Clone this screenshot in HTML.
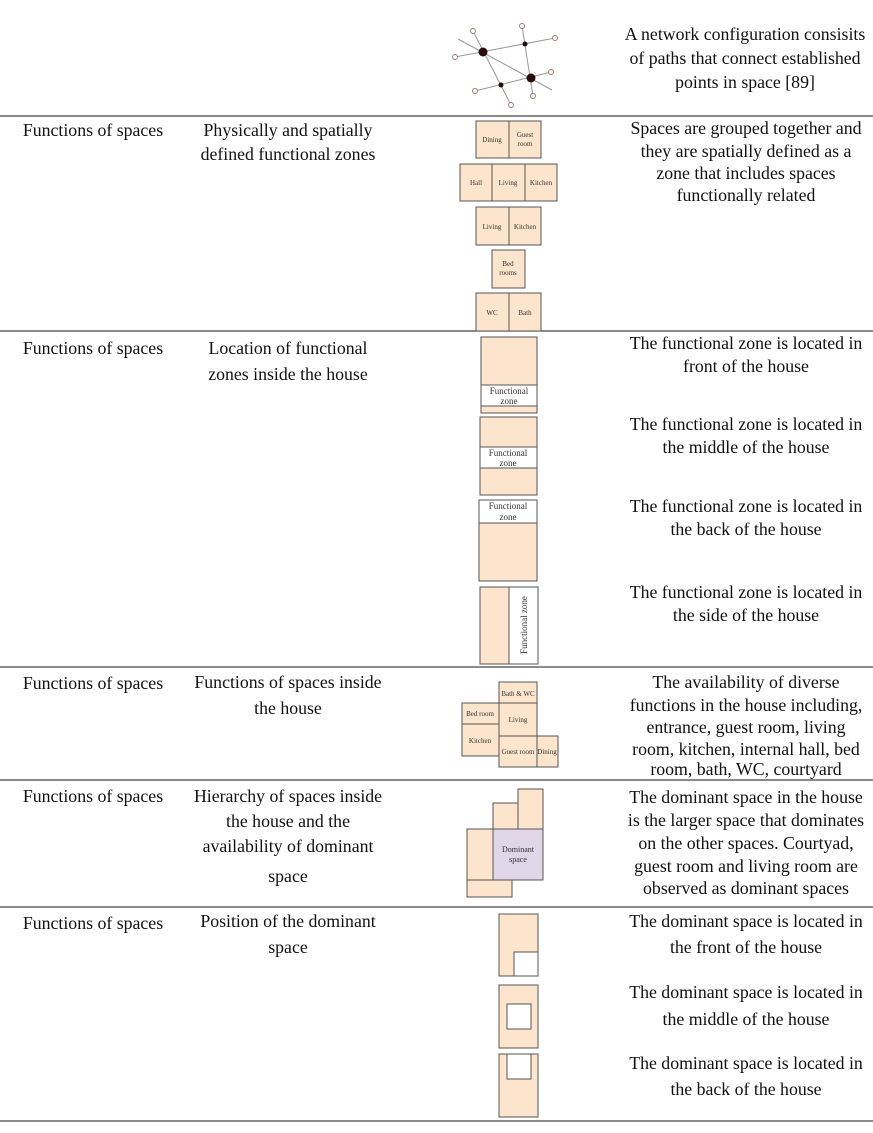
<!DOCTYPE html>
<html><head><meta charset="utf-8"><style>
html,body{margin:0;padding:0;background:#fff;}
svg{display:block;}
</style></head><body>
<svg width="873" height="1133" viewBox="0 0 873 1133" xmlns="http://www.w3.org/2000/svg" font-family="Liberation Serif, serif">
<g stroke="#444" stroke-width="1.2">
<line x1="0" y1="116" x2="873" y2="116"/>
<line x1="0" y1="331" x2="873" y2="331"/>
<line x1="0" y1="667" x2="873" y2="667"/>
<line x1="0" y1="780" x2="873" y2="780"/>
<line x1="0" y1="907" x2="873" y2="907"/>
<line x1="0" y1="1121" x2="873" y2="1121"/>
</g>
<g stroke="#999" stroke-width="1" fill="none">
<line x1="458" y1="39" x2="552" y2="90"/>
<line x1="473" y1="31" x2="511" y2="105"/>
<line x1="455" y1="57" x2="555" y2="38"/>
<line x1="522" y1="26" x2="533" y2="96"/>
<line x1="475" y1="91" x2="551" y2="72"/>
</g>
<g fill="#fff" stroke="#a07070" stroke-width="0.9">
<circle cx="473" cy="31" r="2.5"/><circle cx="455" cy="57" r="2.5"/><circle cx="522" cy="26" r="2.5"/>
<circle cx="555" cy="38" r="2.5"/><circle cx="551" cy="72" r="2.5"/><circle cx="475" cy="91" r="2.5"/>
<circle cx="511" cy="105" r="2.5"/><circle cx="533" cy="96" r="2.5"/>
</g>
<g fill="#2a0a0a">
<circle cx="483" cy="52" r="4.5"/><circle cx="531" cy="78" r="4.5"/>
<circle cx="525" cy="44" r="2.5"/><circle cx="501" cy="85" r="2.5"/>
</g>
<g fill="#fde4cc" stroke="#555" stroke-width="1">
<rect x="476" y="121" width="33" height="37"/><rect x="509" y="121" width="32" height="37"/>
<rect x="460" y="164" width="32" height="37"/><rect x="492" y="164" width="33" height="37"/><rect x="525" y="164" width="32" height="37"/>
<rect x="476" y="207" width="33" height="38"/><rect x="509" y="207" width="32" height="38"/>
<rect x="492" y="250" width="33" height="38"/>
<rect x="476" y="293" width="33" height="38"/><rect x="509" y="293" width="32" height="38"/>
<rect x="481" y="337" width="56" height="76"/>
<rect x="480" y="417" width="57" height="78"/>
<rect x="479" y="500" width="58" height="81"/>
<rect x="480" y="587" width="29" height="77"/>
<rect x="499" y="682" width="38" height="21"/><rect x="499" y="703" width="38" height="33"/>
<rect x="462" y="703" width="37" height="21"/><rect x="462" y="724" width="37" height="32"/>
<rect x="499" y="736" width="38" height="31"/><rect x="537" y="736" width="21" height="31"/>
<rect x="518" y="789" width="25" height="40"/><rect x="493" y="803" width="25" height="26"/>
<rect x="467" y="829" width="26" height="51"/><rect x="467" y="880" width="45" height="17"/>
<rect x="499" y="914" width="39" height="62"/>
<rect x="499" y="985" width="39" height="63"/>
<rect x="499" y="1054" width="39" height="63"/>
</g>
<g fill="#fff" stroke="#555" stroke-width="1">
<rect x="481" y="385" width="56" height="21"/>
<rect x="480" y="447" width="57" height="21"/>
<rect x="479" y="500" width="58" height="23"/>
<rect x="509" y="587" width="29" height="77"/>
<rect x="514" y="952" width="24" height="24"/>
<rect x="507" y="1004" width="24" height="25"/>
<rect x="507" y="1054" width="24" height="25"/>
</g>
<rect x="493" y="829" width="50" height="51" fill="#e1d5e8" stroke="#555"/>
<g font-size="7" fill="#333" text-anchor="middle">
<text x="492" y="142">Dining</text><text x="525" y="137">Guest</text><text x="525" y="146">room</text>
<text x="476" y="185">Hall</text><text x="508" y="185">Living</text><text x="541" y="185">Kitchen</text>
<text x="492" y="229">Living</text><text x="525" y="229">Kitchen</text>
<text x="508" y="266">Bed</text><text x="508" y="275">rooms</text>
<text x="492" y="315">WC</text><text x="525" y="315">Bath</text>
<text x="518" y="696">Bath &amp; WC</text><text x="518" y="722">Living</text>
<text x="480" y="716">Bed room</text><text x="480" y="743">Kitchen</text>
<text x="518" y="754">Guest room</text><text x="547" y="754">Dining</text>
<text x="518" y="852" font-size="8">Dominant</text><text x="518" y="862" font-size="8">space</text>
</g>
<g font-size="9" fill="#333" text-anchor="middle">
<text x="509" y="394">Functional</text><text x="509" y="404">zone</text>
<text x="508" y="456">Functional</text><text x="508" y="466">zone</text>
<text x="508" y="509">Functional</text><text x="508" y="520">zone</text>
<text transform="translate(527,625) rotate(-90)">Functional zone</text>
</g>
<g font-size="17.8" fill="#111" text-anchor="middle">
<text x="745" y="40">A network configuration consisits</text>
<text x="745" y="64">of paths that connect established</text>
<text x="745" y="88">points in space [89]</text>

<text x="93" y="136">Functions of spaces</text>
<text x="288" y="136">Physically and spatially</text>
<text x="288" y="160">defined functional zones</text>
<text x="746" y="134">Spaces are grouped together and</text>
<text x="746" y="157">they are spatially defined as a</text>
<text x="746" y="179">zone that includes spaces</text>
<text x="746" y="201">functionally related</text>

<text x="93" y="354">Functions of spaces</text>
<text x="288" y="354">Location of functional</text>
<text x="288" y="380">zones inside the house</text>
<text x="746" y="349">The functional zone is located in</text>
<text x="746" y="372">front of the house</text>
<text x="746" y="430">The functional zone is located in</text>
<text x="746" y="453">the middle of the house</text>
<text x="746" y="512">The functional zone is located in</text>
<text x="746" y="535">the back of the house</text>
<text x="746" y="598">The functional zone is located in</text>
<text x="746" y="621">the side of the house</text>

<text x="93" y="689">Functions of spaces</text>
<text x="288" y="688">Functions of spaces inside</text>
<text x="288" y="714">the house</text>
<text x="746" y="688">The availability of diverse</text>
<text x="746" y="711">functions in the house including,</text>
<text x="746" y="733">entrance, guest room, living</text>
<text x="746" y="755">room, kitchen, internal hall, bed</text>
<text x="746" y="775">room, bath, WC, courtyard</text>

<text x="93" y="802">Functions of spaces</text>
<text x="288" y="802">Hierarchy of spaces inside</text>
<text x="288" y="827">the house and the</text>
<text x="288" y="852">availability of dominant</text>
<text x="288" y="882">space</text>
<text x="746" y="803">The dominant space in the house</text>
<text x="746" y="826">is the larger space that dominates</text>
<text x="746" y="849">on the other spaces. Courtyad,</text>
<text x="746" y="872">guest room and living room are</text>
<text x="746" y="894">observed as dominant spaces</text>

<text x="93" y="929">Functions of spaces</text>
<text x="288" y="927">Position of the dominant</text>
<text x="288" y="953">space</text>
<text x="746" y="927">The dominant space is located in</text>
<text x="746" y="953">the front of the house</text>
<text x="746" y="998">The dominant space is located in</text>
<text x="746" y="1025">the middle of the house</text>
<text x="746" y="1069">The dominant space is located in</text>
<text x="746" y="1095">the back of the house</text>
</g>
</svg>
</body></html>
